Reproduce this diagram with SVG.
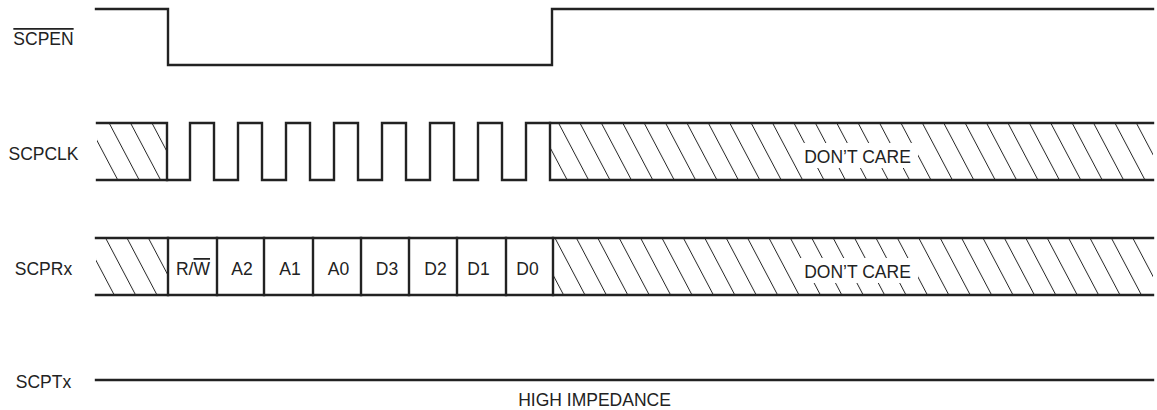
<svg xmlns="http://www.w3.org/2000/svg" width="1157" height="410" viewBox="0 0 1157 410">
  <style>
    .lbl { font-family: "Liberation Sans", Arial, sans-serif; font-size: 17.5px; fill: #222; }
    .mid { text-anchor: middle; }
    .wave { fill: none; stroke: #222; stroke-width: 2.4; stroke-linejoin: miter; stroke-linecap: square; }
    .hatch { fill: url(#hatch); stroke: none; }
    .blank { fill: #fff; stroke: none; }
  </style>
  <defs>
    <pattern id="hatch" patternUnits="userSpaceOnUse" width="21.4" height="20" patternTransform="skewX(27.8)">
      <line x1="1.5" y1="-1" x2="1.5" y2="21" stroke="#222" stroke-width="1"/>
    </pattern>
  </defs>
  <rect width="1157" height="410" fill="#fff"/>

  <g id="sig-scpen">
    <text class="lbl mid" x="43.5" y="45" text-decoration="overline">SCPEN</text>
    <path class="wave" d="M96,9 H168 V65 H552 V9 H1153"/>
  </g>

  <g id="sig-scpclk">
    <text class="lbl mid" x="43.5" y="160">SCPCLK</text>
    <rect class="hatch" x="97" y="123" width="70" height="57"/>
    <rect class="hatch" x="550" y="123" width="603" height="57"/>
    <rect class="blank" x="798" y="143" width="120" height="25"/>
    <text class="lbl mid" x="857.5" y="163">DON’T CARE</text>
    <path class="wave" d="M97,123 H167 V180 H190 V123 H214 V180 H238 V123 H262 V180 H286 V123 H310 V180 H334 V123 H358 V180 H382 V123 H406 V180 H430 V123 H454 V180 H478 V123 H502 V180 H526 V123 H1153"/>
    <path class="wave" d="M97,180 H167"/>
    <path class="wave" d="M550,123 V180 H1153"/>
  </g>

  <g id="sig-scprx">
    <text class="lbl mid" x="43.5" y="275">SCPRx</text>
    <rect class="hatch" x="96" y="238" width="72" height="57"/>
    <rect class="hatch" x="553" y="238" width="600" height="57"/>
    <rect class="blank" x="798" y="258" width="120" height="25"/>
    <text class="lbl mid" x="857.5" y="278">DON’T CARE</text>
    <path class="wave" d="M96,238 H1153 M96,295 H1153"/>
    <path class="wave" d="M168,238 V295 M217,238 V295 M264,238 V295 M313,238 V295 M361,238 V295 M409,238 V295 M457,238 V295 M506,238 V295 M553,238 V295"/>
    <g id="cell-rw"><text class="lbl mid" x="193" y="275">R/<tspan text-decoration="overline">W</tspan></text></g>
    <g id="cell-a2"><text class="lbl mid" x="242" y="275">A2</text></g>
    <g id="cell-a1"><text class="lbl mid" x="290" y="275">A1</text></g>
    <g id="cell-a0"><text class="lbl mid" x="338.5" y="275">A0</text></g>
    <g id="cell-d3"><text class="lbl mid" x="387" y="275">D3</text></g>
    <g id="cell-d2"><text class="lbl mid" x="435.5" y="275">D2</text></g>
    <g id="cell-d1"><text class="lbl mid" x="478.5" y="275">D1</text></g>
    <g id="cell-d0"><text class="lbl mid" x="527.5" y="275">D0</text></g>
  </g>

  <g id="sig-scptx">
    <text class="lbl mid" x="43.5" y="388">SCPTx</text>
    <path class="wave" d="M96,380 H1153"/>
    <text class="lbl mid" x="594.5" y="406">HIGH IMPEDANCE</text>
  </g>

  <g id="connectors"></g>
</svg>
